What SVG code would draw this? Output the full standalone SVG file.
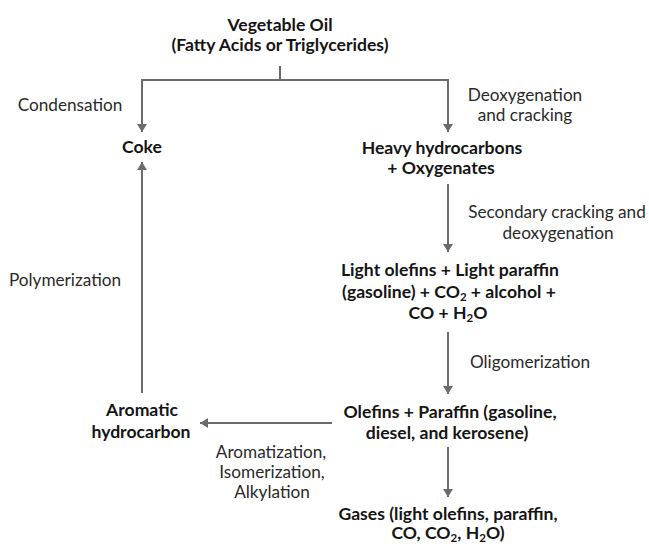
<svg xmlns="http://www.w3.org/2000/svg" width="649" height="544" viewBox="0 0 649 544">
<defs>
<marker id="ah" viewBox="0 0 8 10" refX="8" refY="5" markerWidth="4.2" markerHeight="5.2" orient="auto" markerUnits="strokeWidth">
<path d="M0,0 L8,5 L0,10 z" fill="#6b6b6b"/>
</marker>
<style>
text{font-family:Lato,"Open Sans","Liberation Sans",sans-serif;font-size:17.2px;fill:#2a2a2a;text-anchor:middle}
.b{font-weight:bold;font-size:17.6px;fill:#151515}
.c line,.c path{stroke:#6b6b6b;stroke-width:2;fill:none}
.s{font-size:11.5px}
</style>
</defs>
<rect width="649" height="544" fill="#fff"/>
<g class="c" id="connectors">
<line x1="280" y1="66" x2="280" y2="80"/>
<line x1="142" y1="80" x2="448" y2="80"/>
<line x1="142" y1="79" x2="142" y2="132" marker-end="url(#ah)"/>
<line x1="448" y1="79" x2="448" y2="132" marker-end="url(#ah)"/>
<line x1="142" y1="393" x2="142" y2="162" marker-end="url(#ah)"/>
<line x1="448" y1="184" x2="448" y2="252" marker-end="url(#ah)"/>
<line x1="448" y1="332" x2="448" y2="394" marker-end="url(#ah)"/>
<line x1="332" y1="423" x2="200" y2="423" marker-end="url(#ah)"/>
<line x1="448" y1="447" x2="448" y2="497" marker-end="url(#ah)"/>
</g>
<g id="oil"><text class="b" x="280" y="31">Vegetable Oil</text><text class="b" x="280" y="51">(Fatty Acids or Triglycerides)</text></g>
<g id="coke"><text class="b" x="142" y="153">Coke</text></g>
<g id="heavy"><text class="b" x="442" y="154">Heavy hydrocarbons</text><text class="b" x="441" y="174">+ Oxygenates</text></g>
<g id="light"><text class="b" x="450" y="276">Light olefins + Light paraffin</text><text class="b" x="449" y="298">(gasoline) + CO<tspan class="s" dy="3">2</tspan><tspan dy="-3"> + alcohol +</tspan></text><text class="b" x="448" y="319">CO + H<tspan class="s" dy="3">2</tspan><tspan dy="-3">O</tspan></text></g>
<g id="olefins"><text class="b" x="450" y="418">Olefins + Paraffin (gasoline,</text><text class="b" x="447" y="439">diesel, and kerosene)</text></g>
<g id="aromatic"><text class="b" x="142" y="416">Aromatic</text><text class="b" x="141" y="438">hydrocarbon</text></g>
<g id="gases"><text class="b" x="448" y="520">Gases (light olefins, paraffin,</text><text class="b" x="448" y="539">CO, CO<tspan class="s" dy="2.5">2</tspan><tspan dy="-2.5">, H</tspan><tspan class="s" dy="2.5">2</tspan><tspan dy="-2.5">O)</tspan></text></g>
<g id="labels">
<text x="70" y="111">Condensation</text>
<text x="525" y="101">Deoxygenation</text>
<text x="525" y="121">and cracking</text>
<text x="65" y="286">Polymerization</text>
<text x="557" y="218">Secondary cracking and</text>
<text x="558" y="239">deoxygenation</text>
<text x="530" y="368">Oligomerization</text>
<text x="271" y="458">Aromatization,</text>
<text x="272" y="478">Isomerization,</text>
<text x="272" y="498">Alkylation</text>
</g>
</svg>
